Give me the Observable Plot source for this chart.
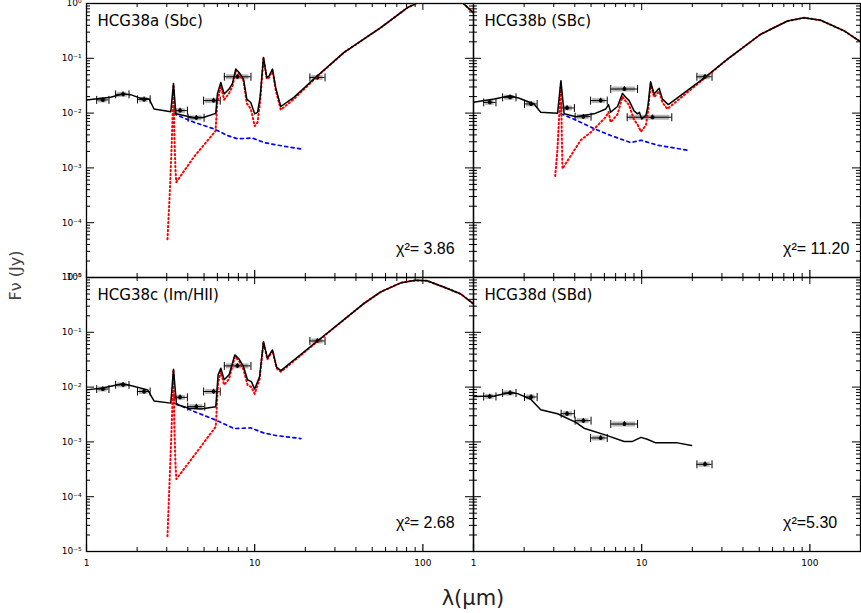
<!DOCTYPE html>
<html><head><meta charset="utf-8">
<script src="https://cdn.jsdelivr.net/npm/d3@7"></script>
<script src="https://cdn.jsdelivr.net/npm/@observablehq/plot@0.6"></script>
<style>
body{margin:0;background:#fff;}
#wrap{position:relative;width:861px;height:613px;font-family:"DejaVu Sans",sans-serif;}
#xt{position:absolute;left:0;width:946px;top:586px;text-align:center;font-size:21px;color:#222;}
#yt{position:absolute;left:-17px;top:266px;width:64px;text-align:center;font-size:16px;color:#444;transform:rotate(-90deg);}
</style></head><body><div id="wrap"><div id="chart"></div><div id="xt">λ(μm)</div><div id="yt">Fν (Jy)</div></div>
<script>
// ---- panels ----
const panelNames = ["HCG38a (Sbc)", "HCG38b (SBc)", "HCG38c (Im/HII)", "HCG38d (SBd)"];
const panelCol = ["L", "R", "L", "R"];
const panelRow = ["T", "T", "B", "B"];
const chi2Text = ["χ²= 3.86", "χ²= 11.20", "χ²= 2.68", "χ²=5.30"];

// ---- axes ----
const xDom = [1, 200];
const yDom = [1e-5, 1];
const xMajor = [1, 10, 100];
const xLabels = ["1", "10", "100"];
const yMajor = [1e-5, 1e-4, 1e-3, 1e-2, 1e-1, 1];
const yLabels = ["10⁻⁵", "10⁻⁴", "10⁻³", "10⁻²", "10⁻¹", "10⁰"];
const minorMult = [2, 3, 4, 5, 6, 7, 8, 9];

// ---- total model (black) ----
const totA_lam = [1.0,1.39,1.64,1.83,2.1,2.36,2.52,3.17,3.29,3.4,4.36,5.0,5.87,6.0,6.29,6.58,7.04,7.38,7.72,8.08,8.58,8.98,9.48,10.0,10.4,10.77,11.28,11.8,12.2,12.76,13.35,14.3,17.1,23.6,34,56.2,81,93,110,130,150,168,185,200];
const totA_f   = [0.0174,0.0194,0.0223,0.0217,0.0186,0.018,0.0119,0.0106,0.0348,0.0097,0.0082,0.0084,0.0099,0.0223,0.0364,0.0223,0.0275,0.0348,0.0636,0.055,0.0418,0.018,0.0156,0.0097,0.0103,0.0194,0.1035,0.0448,0.048,0.0636,0.0286,0.0132,0.0194,0.048,0.128,0.363,0.84,1.03,1.25,1.35,1.3,1.11,0.84,0.67];
const totB_lam = [1.0,1.33,1.65,1.87,2.29,2.51,3.16,3.31,3.46,4.06,5.21,6.12,6.35,6.54,7.18,7.69,8.04,8.42,9.01,9.44,9.7,10.0,10.6,10.9,11.3,11.85,12.7,13.3,14.4,24,32.4,51,73.6,92.4,116,160,200];
const totB_f   = [0.0157,0.0181,0.0208,0.0187,0.0147,0.0104,0.0099,0.0391,0.0097,0.0086,0.0097,0.0119,0.0143,0.0104,0.0132,0.0229,0.0194,0.0169,0.011,0.0097,0.0103,0.0078,0.0091,0.0137,0.0374,0.0223,0.0283,0.018,0.0143,0.046,0.0966,0.275,0.48,0.55,0.494,0.316,0.20];
const totC_lam = [1.0,1.245,1.64,1.88,2.31,2.52,3.17,3.29,3.43,4.07,4.78,5.87,6.06,6.29,6.58,7.04,7.62,8.08,8.58,9.06,9.56,10.0,10.7,11.28,11.9,12.76,13.5,14.3,23.6,44.7,56.2,73.9,90.8,106,140,168,200];
const totC_f   = [0.0089,0.0096,0.0115,0.0105,0.0089,0.0056,0.0051,0.0212,0.0048,0.0041,0.0040,0.0044,0.0167,0.0221,0.0136,0.0167,0.0387,0.0324,0.0237,0.0136,0.0126,0.0092,0.0156,0.0675,0.0337,0.0477,0.0231,0.020,0.0695,0.337,0.547,0.80,0.89,0.87,0.63,0.50,0.33];
const totD_lam = [1.0,1.33,1.65,1.83,2.19,2.51,3.16,4.06,4.54,6.25,7.86,8.83,9.9,10.8,12.1,16.3,19.8];
const totD_f   = [0.00675,0.0069,0.0080,0.0076,0.006,0.00386,0.00327,0.00227,0.00178,0.0013,0.00102,0.00102,0.00121,0.00112,0.00096,0.00096,0.00086];

// ---- dust component (red dotted) ----
const redA_lam = [3.03,3.12,3.2,3.26,3.29,3.33,3.38,3.42,4.36,5.85,6.0,6.29,6.58,7.04,7.38,7.72,8.08,8.58,8.98,9.48,10.0,10.4,10.77,11.28,11.8,12.2,12.76,13.35,14.3,17.1,23.6,34,56.2,81,93,110,130,150,168,185,200];
const redA_f   = [5e-5,3e-4,0.002,0.012,0.033,0.004,0.0009,0.00055,0.0016,0.0047,0.016,0.031,0.0175,0.023,0.031,0.06,0.052,0.039,0.015,0.012,0.0058,0.0068,0.016,0.10,0.042,0.045,0.061,0.026,0.0115,0.018,0.047,0.128,0.363,0.84,1.03,1.25,1.35,1.3,1.11,0.84,0.67];
const redB_lam = [3.06,3.15,3.24,3.31,3.35,3.38,4.34,5.0,6.12,6.35,6.54,7.18,7.69,8.04,8.42,9.01,9.44,9.9,10.6,10.9,11.3,11.85,12.7,13.3,14.2,24,32.4,51,73.6,92.4,116,160,200];
const redB_f   = [0.00071,0.002,0.01,0.038,0.004,0.00097,0.0032,0.0045,0.0085,0.0105,0.0068,0.0095,0.02,0.0165,0.014,0.0075,0.0062,0.0046,0.006,0.0105,0.034,0.0195,0.025,0.0155,0.0119,0.045,0.0966,0.275,0.48,0.55,0.494,0.316,0.20];
const redC_lam = [3.03,3.12,3.2,3.26,3.29,3.33,3.38,3.42,4.36,5.87,6.06,6.29,6.58,7.04,7.62,8.08,8.58,9.06,9.56,10.0,10.7,11.28,11.9,12.76,13.5,14.3,23.6,44.7,56.2,73.9,90.8,106,140,168,200];
const redC_f   = [1.9e-5,2e-4,0.0015,0.008,0.021,0.002,0.0004,0.00021,0.00056,0.0019,0.012,0.019,0.011,0.014,0.036,0.030,0.021,0.011,0.010,0.0075,0.014,0.066,0.032,0.046,0.022,0.019,0.068,0.337,0.547,0.80,0.89,0.87,0.63,0.50,0.33];

// ---- stellar component (blue dashed) ----
const bluA_lam = [3.3,4.36,5.74,6.88,7.9,9.7,11.4,13.7,19.2];
const bluA_f   = [0.0097,0.0068,0.00515,0.0039,0.0034,0.0035,0.0029,0.0026,0.0022];
const bluB_lam = [3.31,4.06,5.21,6.54,8.6,9.9,12.4,18.8];
const bluB_f   = [0.0097,0.0075,0.0052,0.0039,0.0029,0.0032,0.0026,0.0021];
const bluC_lam = [3.4,4.36,5.87,7.54,9.48,11.28,13.35,18.8];
const bluC_f   = [0.005,0.0036,0.0025,0.00175,0.0018,0.00146,0.00131,0.00115];

// ---- photometry ----
const phA_lam = [1.25,1.65,2.2,3.6,4.5,5.7,7.9,23.6];
const phA_lo  = [1.15,1.49,2.01,3.32,4.02,4.97,6.6,21.3];
const phA_hi  = [1.36,1.79,2.39,3.98,5.0,6.24,9.5,26.2];
const phA_f   = [0.0174,0.022,0.0178,0.0111,0.0082,0.0169,0.046,0.0448];
const phB_lam = [1.25,1.65,2.2,3.6,4.5,5.7,7.9,11.6,23.8];
const phB_lo  = [1.15,1.49,2.01,3.32,4.02,4.97,6.55,8.2,21.3];
const phB_hi  = [1.36,1.79,2.39,3.98,5.0,6.24,9.45,15.1,26.2];
const phB_f   = [0.0157,0.0194,0.0147,0.0124,0.0086,0.0169,0.0275,0.0084,0.046];
const phC_lam = [1.25,1.65,2.2,3.6,4.5,5.7,7.9,23.6];
const phC_lo  = [1.15,1.49,2.01,3.32,4.0,4.97,6.6,21.3];
const phC_hi  = [1.36,1.79,2.39,3.98,5.05,6.24,9.5,26.2];
const phC_f   = [0.0092,0.011,0.0083,0.0065,0.0044,0.0083,0.0244,0.0695];
const phD_lam = [1.25,1.65,2.2,3.6,4.5,5.7,7.9,23.8];
const phD_lo  = [1.15,1.49,2.01,3.32,4.02,4.97,6.55,21.3];
const phD_hi  = [1.36,1.79,2.39,3.98,5.0,6.24,9.45,26.2];
const phD_f   = [0.00675,0.0078,0.0066,0.00327,0.00244,0.00118,0.00212,0.00039];
const phRelErr = [0.1,0.1,0.1,0.1,0.1,0.1,0.1,0.1,0.1];

// ---- layout ----
const W = 861, H = 613, ML = 86, MR = 1, MT = 2.5, MB = 60.7;
const PW = (W - ML - MR) / 2, PH = (H - MT - MB) / 2;           // panel size in px
const pxPerDecX = PW / Math.log10(xDom[1] / xDom[0]);
const pxPerDecY = PH / Math.log10(yDom[1] / yDom[0]);
const stepX = (px) => Math.pow(10, px / pxPerDecX);             // multiplicative step for a tick length
const stepY = (px) => Math.pow(10, px / pxPerDecY);

// ---- build tables ----
function series(p, lam, f) { return lam.map((l, i) => ({col: panelCol[p], row: panelRow[p], lam: l, f: f[i], z: p})); }
const totalZ = [[0,totA_lam,totA_f],[1,totB_lam,totB_f],[2,totC_lam,totC_f],[3,totD_lam,totD_f]].flatMap(([p,l,f]) => series(p,l,f));
const redZ = [[0,redA_lam,redA_f],[1,redB_lam,redB_f],[2,redC_lam,redC_f]].flatMap(([p,l,f]) => series(p,l,f));
const bluZ = [[0,bluA_lam,bluA_f],[1,bluB_lam,bluB_f],[2,bluC_lam,bluC_f]].flatMap(([p,l,f]) => series(p,l,f));
const phot = [[0,phA_lam,phA_lo,phA_hi,phA_f],[1,phB_lam,phB_lo,phB_hi,phB_f],[2,phC_lam,phC_lo,phC_hi,phC_f],[3,phD_lam,phD_lo,phD_hi,phD_f]]
  .flatMap(([p,l,lo,hi,f]) => l.map((v,i) => ({col: panelCol[p], row: panelRow[p], lam: v, lo: lo[i], hi: hi[i], f: f[i], f1: f[i]*(1-phRelErr[i]), f2: f[i]*(1+phRelErr[i])})));
const panels = panelNames.map((n,i) => ({col: panelCol[i], row: panelRow[i], name: n, chi: chi2Text[i]}));

const xMinor = xMajor.slice(0,2).flatMap(d => minorMult.map(m => m*d));
const yMinor = yMajor.slice(0,-1).flatMap(d => minorMult.map(m => m*d));
const xTickRows = panels.flatMap(p => [...xMajor.map(v => ({col: p.col, row: p.row, v, len: 7, w: 1.2})), ...xMinor.map(v => ({col: p.col, row: p.row, v, len: 4, w: 1}))]);
const yTickRows = panels.flatMap(p => [...yMajor.map(v => ({col: p.col, row: p.row, v, len: 8, w: 1.2})), ...yMinor.map(v => ({col: p.col, row: p.row, v, len: 4, w: 1}))]);

const capSymbol = {draw(ctx, size) { const h = Math.sqrt(size / Math.PI); ctx.moveTo(0, -h); ctx.lineTo(0, h); }};
const F = {fx: "col", fy: "row"};

const svg = Plot.plot({
  width: W, height: H,
  marginLeft: ML, marginRight: MR, marginTop: MT, marginBottom: MB,
  x: {type: "log", domain: xDom},
  y: {type: "log", domain: yDom},
  fx: {domain: ["L","R"], padding: 0, axis: null},
  fy: {domain: ["T","B"], padding: 0, axis: null},
  style: {fontFamily: "'DejaVu Sans', sans-serif", fontSize: "9px"},
  marks: [
    Plot.axisX(xMajor, {anchor: "bottom", tickSize: 0, tickPadding: 8, tickFormat: (d) => xLabels[xMajor.indexOf(d)], label: null, fontSize: 9}),
    Plot.axisY(yMajor, {anchor: "left", tickSize: 0, tickPadding: 5, tickFormat: (d) => yLabels[yMajor.indexOf(d)], label: null, fontSize: 9}),
    Plot.frame({strokeWidth: 1.3}),
    // inward ticks on all four sides of every panel
    Plot.ruleX(xTickRows, {...F, x: "v", y1: () => yDom[0], y2: (d) => yDom[0] * stepY(d.len), stroke: "#000", strokeWidth: "w"}),
    Plot.ruleX(xTickRows, {...F, x: "v", y1: () => yDom[1], y2: (d) => yDom[1] / stepY(d.len), stroke: "#000", strokeWidth: 1}),
    Plot.ruleY(yTickRows, {...F, y: "v", x1: () => xDom[0], x2: (d) => xDom[0] * stepX(d.len), stroke: "#000", strokeWidth: 1}),
    Plot.ruleY(yTickRows, {...F, y: "v", x1: () => xDom[1], x2: (d) => xDom[1] / stepX(d.len), stroke: "#000", strokeWidth: 1}),
    // photometry
    Plot.ruleY(phot, {...F, x1: "lo", x2: "hi", y: "f", stroke: "#b4b4b4", strokeWidth: 5, insetLeft: 2, insetRight: 2}),
    Plot.ruleY(phot, {...F, x1: "lo", x2: "hi", y: "f", stroke: "#000", strokeWidth: 1}),
    Plot.dot(phot, {...F, x: "lo", y: "f", symbol: capSymbol, r: 4, stroke: "#000", fill: "none", strokeWidth: 1}),
    Plot.dot(phot, {...F, x: "hi", y: "f", symbol: capSymbol, r: 4, stroke: "#000", fill: "none", strokeWidth: 1}),
    Plot.ruleX(phot, {...F, x: "lam", y1: "f1", y2: "f2", stroke: "#000", strokeWidth: 1.2}),
    Plot.dot(phot, {...F, x: "lam", y: "f", r: 2, fill: "#000"}),
    // model components
    Plot.line(bluZ, {...F, x: "lam", y: "f", z: "z", stroke: "#0000ff", strokeWidth: 1.7, strokeDasharray: "3,3.5", clip: true}),
    Plot.line(redZ, {...F, x: "lam", y: "f", z: "z", stroke: "#ff0000", strokeWidth: 2, strokeDasharray: "1.3,2.7", clip: true}),
    Plot.line(totalZ, {...F, x: "lam", y: "f", z: "z", stroke: "#000", strokeWidth: 1.5, clip: true}),
    // labels
    Plot.text(panels, {...F, text: "name", frameAnchor: "top-left", textAnchor: "start", lineAnchor: "middle", dx: 11, dy: 18, fontSize: 15}),
    Plot.text(panels, {...F, text: "chi", frameAnchor: "bottom-right", textAnchor: "start", lineAnchor: "middle", dx: -77.5, dy: -29, fontSize: 16, fontFamily: "'Liberation Sans', Arial, sans-serif"})
  ]
});
document.getElementById("chart").appendChild(svg);
</script>
</body></html>
